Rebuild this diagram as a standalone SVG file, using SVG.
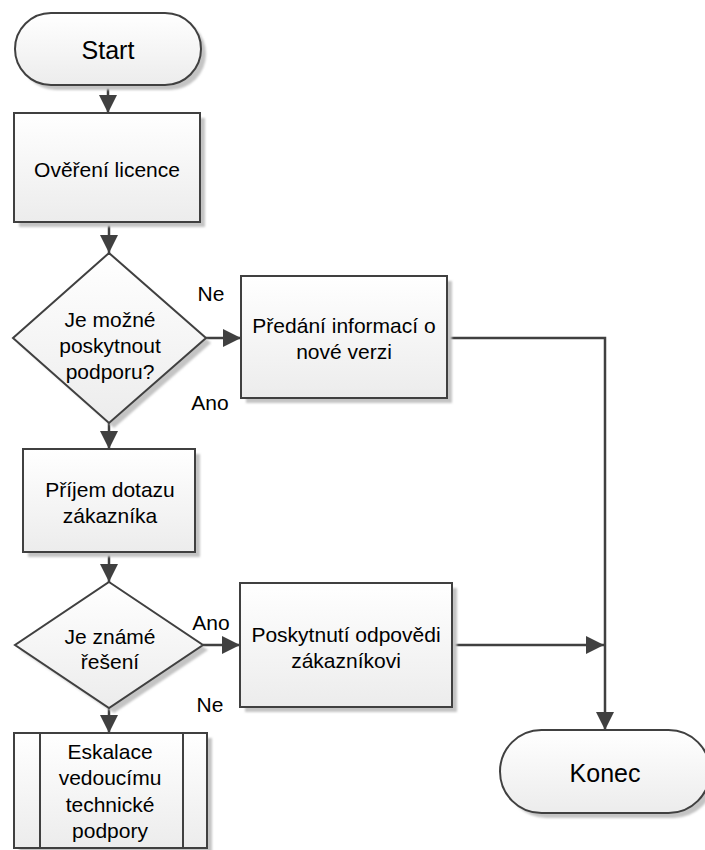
<svg xmlns="http://www.w3.org/2000/svg" width="705" height="850" viewBox="0 0 705 850">
<defs>
<linearGradient id="g" x1="0" y1="0" x2="0" y2="1">
<stop offset="0" stop-color="#ffffff"/>
<stop offset="1" stop-color="#ececec"/>
</linearGradient>
<filter id="blur" x="-10%" y="-10%" width="120%" height="120%">
<feGaussianBlur stdDeviation="1.2"/>
</filter>
<marker id="arr" markerUnits="userSpaceOnUse" markerWidth="19" markerHeight="18" refX="18" refY="9" orient="auto" viewBox="0 0 19 18">
<path d="M0,0 L18,9 L0,18 z" fill="#404040"/>
</marker>
</defs>
<style>
.shape{fill:url(#g);stroke:#404040;stroke-width:2}
.shadow{fill:#c4c4c4;filter:url(#blur)}
.t{font-family:"Liberation Sans",Arial,sans-serif;font-size:21px;fill:#000;text-anchor:middle}
.big{font-size:25px}
.conn{fill:none;stroke:#404040;stroke-width:2.5}
</style>

<g id="connectors">
<line class="conn" x1="108" y1="85" x2="108" y2="113" marker-end="url(#arr)"/>
<line class="conn" x1="109" y1="222" x2="109" y2="253" marker-end="url(#arr)"/>
<line class="conn" x1="206" y1="338" x2="241" y2="338" marker-end="url(#arr)"/>
<polyline class="conn" points="447,338 605,338 605,730" marker-end="url(#arr)"/>
<line class="conn" x1="109" y1="423" x2="109" y2="449" marker-end="url(#arr)"/>
<line class="conn" x1="109" y1="552" x2="109" y2="582" marker-end="url(#arr)"/>
<line class="conn" x1="203" y1="645" x2="240" y2="645" marker-end="url(#arr)"/>
<line class="conn" x1="452" y1="645" x2="604" y2="645" marker-end="url(#arr)"/>
<line class="conn" x1="109" y1="708" x2="109" y2="733" marker-end="url(#arr)"/>
<text class="t" x="211" y="301">Ne</text>
<text class="t" x="210" y="410">Ano</text>
<text class="t" x="211" y="630">Ano</text>
<text class="t" x="210" y="712">Ne</text>
</g>

<g id="start">
<rect class="shadow" x="20" y="18" width="186" height="72" rx="36"/>
<rect class="shape" x="15" y="13" width="186" height="72" rx="36"/>
<text class="t big" x="108" y="59">Start</text>
</g>

<g id="overeni">
<rect class="shadow" x="19" y="118" width="186" height="109"/>
<rect class="shape" x="14" y="113" width="186" height="109"/>
<text class="t" x="107" y="177">Ověření licence</text>
</g>

<g id="rozhodnuti1">
<polygon class="shadow" points="114,258 211,343 114,428 18,343"/>
<polygon class="shape" points="109,253 206,338 109,423 13,338"/>
<text class="t" x="110" y="327">Je možné</text>
<text class="t" x="110" y="353">poskytnout</text>
<text class="t" x="110" y="379">podporu?</text>
</g>

<g id="predani">
<rect class="shadow" x="246" y="281" width="206" height="122"/>
<rect class="shape" x="241" y="276" width="206" height="122"/>
<text class="t" x="344" y="333">Předání informací o</text>
<text class="t" x="344" y="359">nové verzi</text>
</g>

<g id="prijem">
<rect class="shadow" x="28" y="454" width="172" height="103"/>
<rect class="shape" x="23" y="449" width="172" height="103"/>
<text class="t" x="110" y="497">Příjem dotazu</text>
<text class="t" x="110" y="523">zákazníka</text>
</g>

<g id="rozhodnuti2">
<polygon class="shadow" points="114,587 208,650 114,713 20,650"/>
<polygon class="shape" points="109,582 203,645 109,708 15,645"/>
<text class="t" x="110" y="644">Je známé</text>
<text class="t" x="110" y="669">řešení</text>
</g>

<g id="poskytnuti">
<rect class="shadow" x="245" y="588" width="212" height="124"/>
<rect class="shape" x="240" y="583" width="212" height="124"/>
<text class="t" x="346" y="642">Poskytnutí odpovědi</text>
<text class="t" x="346" y="668">zákazníkovi</text>
</g>

<g id="eskalace">
<rect class="shadow" x="19" y="738" width="193" height="115"/>
<rect class="shape" x="14" y="733" width="193" height="115"/>
<line x1="40" y1="733" x2="40" y2="848" stroke="#404040" stroke-width="2"/>
<line x1="183" y1="733" x2="183" y2="848" stroke="#404040" stroke-width="2"/>
<text class="t" x="110" y="759">Eskalace</text>
<text class="t" x="110" y="785">vedoucímu</text>
<text class="t" x="110" y="812">technické</text>
<text class="t" x="110" y="838">podpory</text>
</g>

<g id="konec">
<rect class="shadow" x="505" y="735" width="210" height="83" rx="41.5"/>
<rect class="shape" x="500" y="730" width="210" height="83" rx="41.5"/>
<text class="t big" x="605" y="782">Konec</text>
</g>
</svg>
